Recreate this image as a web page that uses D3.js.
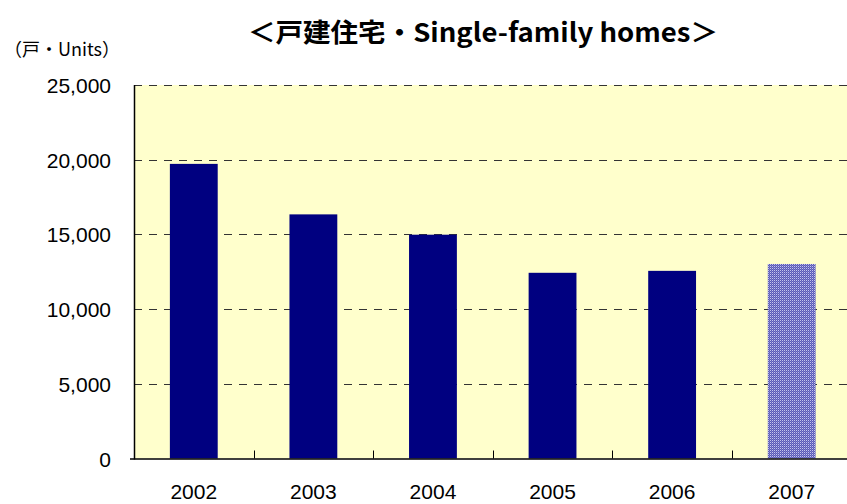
<!DOCTYPE html>
<html><head><meta charset="utf-8">
<script src="https://cdn.jsdelivr.net/npm/d3@7"></script>
<style>body{margin:0;background:#fff}svg{display:block}</style>
</head><body>
<script>
const categories = ["2002","2003","2004","2005","2006","2007"];
const values = [19720, 16340, 14980, 12430, 12560, 13020];
const patterned = [false,false,false,false,false,true];
const yTicks = [0,5000,10000,15000,20000,25000];
const title = "＜戸建住宅・Single-family homes＞";
const yLabel = "（戸・Units）";

(function(){
const W = 847, H = 504;
const svg = d3.select("body").append("svg").attr("width",W).attr("height",H);
const pl = 134, pr = 851.5, pt = 85, pb = 458.5;

const defs = svg.append("defs");
const pat = defs.append("pattern").attr("id","dither").attr("width",2).attr("height",2).attr("patternUnits","userSpaceOnUse");
pat.append("rect").attr("width",2).attr("height",2).attr("fill","#5a5ab6");
pat.append("rect").attr("x",0).attr("y",0).attr("width",1).attr("height",1).attr("fill","#c4c4ee");
pat.append("rect").attr("x",1).attr("y",1).attr("width",1).attr("height",1).attr("fill","#7c7cca");

const x = d3.scaleBand().domain(categories).range([pl,pr]).paddingInner(0.6).paddingOuter(0.3);
const xb = d3.scaleBand().domain(categories).range([pl,pr]);
const y = d3.scaleLinear().domain([0,25000]).range([pb,pt]);

svg.append("rect").attr("x",pl).attr("y",pt).attr("width",pr-pl).attr("height",pb-pt).attr("fill","#ffffcc");

svg.append("g").selectAll("line").data(yTicks.filter(d=>d>0)).join("line")
  .attr("x1",pl).attr("x2",pr).attr("y1",d=>Math.round(y(d))+0.5).attr("y2",d=>Math.round(y(d))+0.5)
  .attr("stroke","#333").attr("stroke-dasharray","8,7");

svg.append("g").selectAll("rect").data(categories).join("rect")
  .attr("x",d=>x(d)).attr("width",x.bandwidth())
  .attr("y",(d,i)=>y(values[i])).attr("height",(d,i)=>pb-y(values[i]))
  .attr("fill",(d,i)=>patterned[i]?"url(#dither)":"#000080");

svg.append("line").attr("x1",pl+0.5).attr("x2",pl+0.5).attr("y1",pt).attr("y2",pb+1).attr("stroke","#000").attr("stroke-width",1.5);
svg.append("line").attr("x1",pl-4).attr("x2",pr).attr("y1",pb+0.5).attr("y2",pb+0.5).attr("stroke","#000").attr("stroke-width",1.5);
svg.append("g").selectAll("line").data(categories.slice(1)).join("line")
  .attr("x1",d=>Math.round(xb(d))+0.5).attr("x2",d=>Math.round(xb(d))+0.5)
  .attr("y1",pb).attr("y2",pb-8).attr("stroke","#000");

const fmt = d3.format(",");
svg.append("g").selectAll("text").data(yTicks).join("text")
  .attr("x",111).attr("y",d=>y(d)+8).attr("text-anchor","end")
  .attr("font-family","Liberation Sans, Arial, sans-serif").attr("font-size",21)
  .text(d=>fmt(d));

svg.append("g").selectAll("text").data(categories).join("text")
  .attr("x",d=>x(d)+x.bandwidth()/2).attr("y",499).attr("text-anchor","middle")
  .attr("font-family","Liberation Sans, Arial, sans-serif").attr("font-size",21)
  .text(d=>d);

svg.append("text").attr("x",483).attr("y",42).attr("text-anchor","middle")
  .attr("font-family","Noto Sans CJK JP, sans-serif").attr("font-size",26).attr("font-weight","bold")
  .attr("textLength",470).attr("lengthAdjust","spacingAndGlyphs")
  .text(title);

svg.append("text").attr("x",4).attr("y",56)
  .attr("font-family","Noto Sans CJK JP, sans-serif").attr("font-size",18)
  .attr("textLength",116).attr("lengthAdjust","spacingAndGlyphs")
  .text(yLabel);
})();
</script>
</body></html>
